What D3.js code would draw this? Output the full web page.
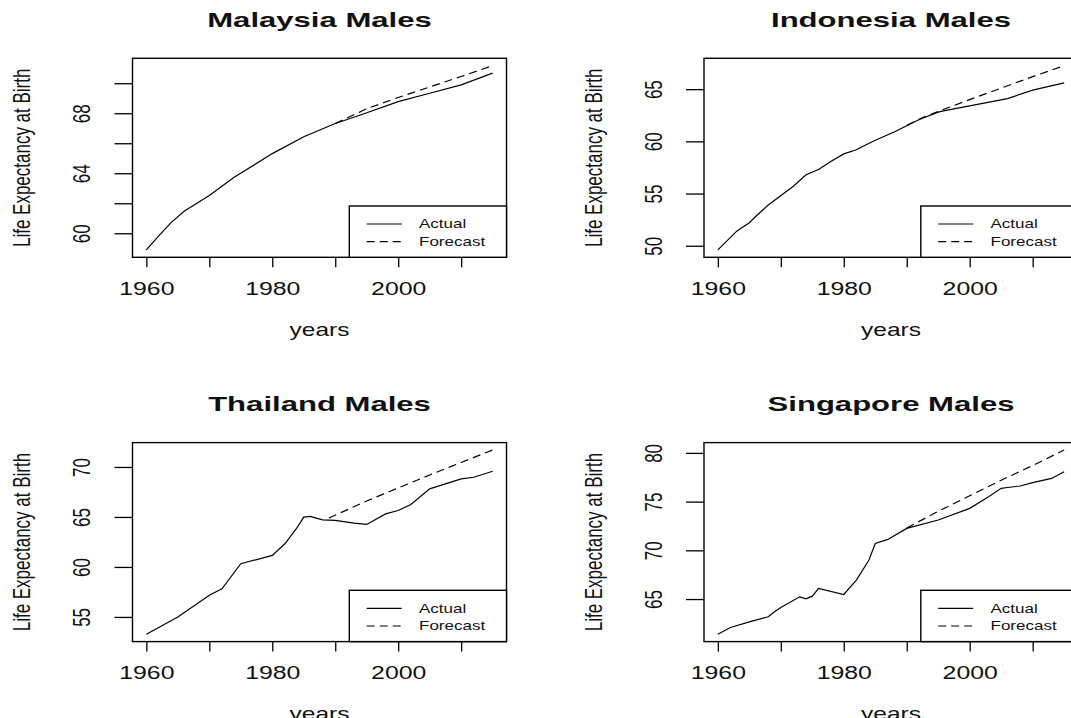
<!DOCTYPE html>
<html>
<head>
<meta charset="utf-8">
<script src="https://cdn.jsdelivr.net/npm/d3@7"></script>
<style>
  html, body { margin: 0; padding: 0; background: #fff; overflow: hidden; }
  text { font-family: "Liberation Sans", Arial, Helvetica, sans-serif; fill: #111; }
</style>
</head>
<body>
<svg id="chart" width="1071" height="718"></svg>
<script>
// ---- Life expectancy at birth, males (actual vs. forecast) ----
const malaysiaYears    = [1960, 1962, 1964, 1966, 1970, 1974, 1980, 1985, 1990, 1994, 2000, 2005, 2010, 2015];
const malaysiaActual   = [58.89, 59.84, 60.74, 61.47, 62.52, 63.75, 65.31, 66.43, 67.32, 67.88, 68.77, 69.33, 69.89, 70.67];
const malaysiaFcYears  = [1990, 1995, 2000, 2005, 2010, 2015];
const malaysiaForecast = [67.32, 68.3, 69.05, 69.75, 70.45, 71.17];

const indonesiaYears    = [1960, 1963, 1965, 1966, 1968, 1972, 1974, 1976, 1978, 1980, 1982, 1983, 1985, 1988, 1992, 1995, 1996, 2000, 2006, 2010, 2015];
const indonesiaActual   = [49.6, 51.4, 52.2, 52.8, 53.9, 55.7, 56.8, 57.3, 58.1, 58.8, 59.2, 59.5, 60.1, 60.9, 62.1, 62.8, 62.95, 63.4, 64.1, 64.9, 65.6];
const indonesiaFcYears  = [1990, 1993, 1996, 2000, 2005, 2010, 2015];
const indonesiaForecast = [61.55, 62.4, 63.1, 64.0, 65.1, 66.2, 67.25];

const thailandYears    = [1960, 1965, 1970, 1972, 1975, 1980, 1982, 1984, 1985, 1986, 1988, 1990, 1993, 1995, 1998, 2000, 2002, 2005, 2010, 2012, 2015];
const thailandActual   = [53.27, 55.0, 57.16, 57.82, 60.32, 61.15, 62.32, 63.98, 64.98, 65.05, 64.71, 64.65, 64.38, 64.25, 65.31, 65.64, 66.24, 67.81, 68.81, 68.97, 69.57];
const thailandFcYears  = [1989, 1995, 2000, 2005, 2010, 2015];
const thailandForecast = [64.9, 66.6, 67.9, 69.2, 70.45, 71.7];

const singaporeYears    = [1960, 1962, 1965, 1968, 1969, 1970, 1973, 1974, 1975, 1976, 1980, 1982, 1984, 1985, 1987, 1990, 1995, 2000, 2003, 2005, 2006, 2008, 2010, 2013, 2015];
const singaporeActual   = [61.39, 62.08, 62.66, 63.18, 63.7, 64.14, 65.23, 65.03, 65.3, 66.09, 65.47, 66.94, 69.0, 70.71, 71.12, 72.25, 73.11, 74.31, 75.51, 76.36, 76.45, 76.6, 76.95, 77.38, 78.07];
const singaporeFcYears  = [1990, 1995, 2000, 2005, 2010, 2015];
const singaporeForecast = [72.3, 74.0, 75.6, 77.2, 78.7, 80.3];

// axis ticks and the labels that are printed
const xTicks      = [1960, 1970, 1980, 1990, 2000, 2010];
const xTickLabels = [1960, 1980, 2000];
const malaysiaYTicks  = [60, 62, 64, 66, 68, 70];
const malaysiaYLabels = [60, 64, 68];
const indonesiaYTicks = [50, 55, 60, 65];
const thailandYTicks  = [55, 60, 65, 70];
const singaporeYTicks = [65, 70, 75, 80];

const titles  = ["Malaysia Males", "Indonesia Males", "Thailand Males", "Singapore Males"];
const legendLabels = ["Actual", "Forecast"];
const xLabel = "years";
const yLabel = "Life Expectancy at Birth";

const panels = [
  { title: titles[0], yearsA: malaysiaYears,  actual: malaysiaActual,  yearsF: malaysiaFcYears,  forecast: malaysiaForecast,  yTicks: malaysiaYTicks,  yLabels: malaysiaYLabels, col: 0, row: 0 },
  { title: titles[1], yearsA: indonesiaYears, actual: indonesiaActual, yearsF: indonesiaFcYears, forecast: indonesiaForecast, yTicks: indonesiaYTicks, yLabels: indonesiaYTicks, col: 1, row: 0 },
  { title: titles[2], yearsA: thailandYears,  actual: thailandActual,  yearsF: thailandFcYears,  forecast: thailandForecast,  yTicks: thailandYTicks,  yLabels: thailandYTicks,  col: 0, row: 1 },
  { title: titles[3], yearsA: singaporeYears, actual: singaporeActual, yearsF: singaporeFcYears, forecast: singaporeForecast, yTicks: singaporeYTicks, yLabels: singaporeYTicks, col: 1, row: 1 }
];

// ---- layout ----
const W = 1071, H = 718;
const L = { left0: 132.5, top0: 58.3, dx: 571.5, dy: 384.3, w: 374, h: 199 };
const SX = 1.42;          // horizontal widening of glyphs
const DASH = "8,5";

const svg = d3.select("#chart");
svg.append("rect").attr("width", W).attr("height", H).attr("fill", "#fff");

panels.forEach(p => {
  const x0 = L.left0 + p.col * L.dx;
  const y0 = L.top0 + p.row * L.dy;
  const g = svg.append("g").attr("transform", `translate(${x0},${y0})`);

  // R-style 4% padding around the data range
  const [xa, xb] = d3.extent(p.yearsA.concat(p.yearsF));
  const xp = (xb - xa) * 0.04;
  const x = d3.scaleLinear().domain([xa - xp, xb + xp]).range([0, L.w]);
  const [ya, yb] = d3.extent(p.actual.concat(p.forecast));
  const yp = (yb - ya) * 0.04;
  const y = d3.scaleLinear().domain([ya - yp, yb + yp]).range([L.h, 0]);

  const line = d3.line().x(d => x(d[0])).y(d => y(d[1]));

  g.append("path")
    .datum(d3.zip(p.yearsF, p.forecast))
    .attr("d", line)
    .attr("fill", "none").attr("stroke", "#000").attr("stroke-width", 1.2)
    .attr("stroke-dasharray", DASH);

  g.append("path")
    .datum(d3.zip(p.yearsA, p.actual))
    .attr("d", line)
    .attr("fill", "none").attr("stroke", "#000").attr("stroke-width", 1.2);

  // x axis
  const gx = g.append("g")
    .attr("transform", `translate(0,${L.h})`)
    .call(d3.axisBottom(x).tickValues(xTicks).tickSize(10).tickSizeOuter(0)
      .tickFormat(d => xTickLabels.includes(d) ? String(d) : ""));
  gx.attr("font-size", null).attr("font-family", null);
  gx.select(".domain").remove();
  gx.selectAll(".tick line").attr("stroke", "#000").attr("stroke-width", 1.3);
  gx.selectAll(".tick text")
    .attr("y", null).attr("dy", null)
    .attr("font-size", 17.5).attr("fill", "#1a1a1a")
    .attr("transform", `translate(0,37.7) scale(${SX},1)`);

  // y axis (labels parallel to the axis)
  const gy = g.append("g")
    .call(d3.axisLeft(y).tickValues(p.yTicks).tickSize(18).tickSizeOuter(0)
      .tickFormat(d => p.yLabels.includes(d) ? String(d) : ""));
  gy.attr("font-size", null).attr("font-family", null);
  gy.select(".domain").remove();
  gy.selectAll(".tick line").attr("stroke", "#000").attr("stroke-width", 1.3);
  gy.selectAll(".tick text")
    .attr("x", null).attr("dy", null)
    .attr("text-anchor", "middle")
    .attr("font-size", 17).attr("fill", "#1a1a1a")
    .attr("transform", `translate(-42.5,0) scale(${SX},1) rotate(-90)`);

  // plot frame
  g.append("rect")
    .attr("x", 0).attr("y", 0).attr("width", L.w).attr("height", L.h)
    .attr("fill", "none").attr("stroke", "#000").attr("stroke-width", 1.4);

  // legend (bottom-right)
  const lgX = 216.8, lgY = 147.7;
  const lg = g.append("g").attr("transform", `translate(${lgX},${lgY})`);
  lg.append("rect")
    .attr("x", 0).attr("y", 0).attr("width", L.w - lgX).attr("height", L.h - lgY)
    .attr("fill", "#fff").attr("stroke", "#000").attr("stroke-width", 1.4);
  legendLabels.forEach((lab, i) => {
    const ly = 18 + i * 17.7;
    lg.append("line")
      .attr("x1", 17.4).attr("x2", 52.4).attr("y1", ly).attr("y2", ly)
      .attr("stroke", "#000").attr("stroke-width", 1.2)
      .attr("stroke-dasharray", i === 1 ? DASH : null);
    lg.append("text")
      .attr("transform", `translate(69.7,${ly + 4.3}) scale(${SX},1)`)
      .attr("font-size", 12).attr("fill", "#1a1a1a")
      .text(lab);
  });

  // titles and axis labels
  g.append("text")
    .attr("transform", `translate(${L.w / 2},-31.6) scale(1.48,1)`)
    .attr("text-anchor", "middle").attr("font-size", 21).attr("font-weight", "bold")
    .attr("fill", "#000")
    .text(p.title);

  g.append("text")
    .attr("transform", `translate(${L.w / 2},${L.h + 78.2}) scale(1.4,1)`)
    .attr("text-anchor", "middle").attr("font-size", 17.5).attr("fill", "#1a1a1a")
    .text(xLabel);

  g.append("text")
    .attr("transform", `translate(-102.5,${L.h / 2}) scale(${SX},1) rotate(-90)`)
    .attr("text-anchor", "middle").attr("font-size", 17).attr("fill", "#1a1a1a")
    .text(yLabel);
});
</script>
</body>
</html>
